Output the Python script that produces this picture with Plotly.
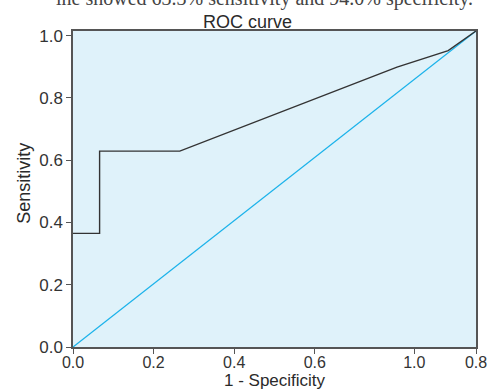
import plotly.graph_objects as go

# ROC curve points (1 - specificity, sensitivity)
roc_x = [0.0, 0.066, 0.066, 0.265, 0.804, 0.931, 1.0]
roc_y = [0.365, 0.365, 0.629, 0.629, 0.899, 0.952, 1.015]
# Reference diagonal
diag_x = [0.0, 1.0]
diag_y = [0.0, 1.015]

x_tickvals = [0.0, 0.2, 0.4, 0.6, 0.847, 1.0]
x_ticktext = ["0.0", "0.2", "0.4", "0.6", "1.0", "0.8"]
y_tickvals = [0.0, 0.2, 0.4, 0.6, 0.8, 1.0]
y_ticktext = ["0.0", "0.2", "0.4", "0.6", "0.8", "1.0"]

title_text = "ROC curve"
x_title = "1 - Specificity"
y_title = "Sensitivity"
caption_text = "ine showed 63.3% sensitivity and 94.0% specificity."

fig = go.Figure()
fig.add_trace(go.Scatter(x=diag_x, y=diag_y, mode="lines",
                         line=dict(color="#1ab2ea", width=1.3), hoverinfo="skip"))
fig.add_trace(go.Scatter(x=roc_x, y=roc_y, mode="lines",
                         line=dict(color="#333333", width=1.4), hoverinfo="skip"))

fam = "Liberation Sans, Arial, sans-serif"
tickfont = dict(family=fam, size=17, color="#333333")
xtickfont = dict(family=fam, size=16, color="#333333")
labfont = dict(family=fam, size=18, color="#2a2a2a")
xlabfont = dict(family=fam, size=17, color="#2a2a2a")

fig.update_layout(
    width=499, height=390,
    margin=dict(l=73, r=13, t=31, b=43),
    paper_bgcolor="white",
    plot_bgcolor="#dff2fa",
    showlegend=False,
    font=tickfont,
    xaxis=dict(range=[0, 1], tickvals=x_tickvals, ticktext=x_ticktext,
               showgrid=False, zeroline=False, showline=True, mirror=True,
               linecolor="#555555", linewidth=1.5, ticks="outside", ticklen=5,
               tickcolor="#555555", tickfont=xtickfont, ticklabelstandoff=-5),
    yaxis=dict(range=[0, 1.015], tickvals=y_tickvals, ticktext=y_ticktext,
               showgrid=False, zeroline=False, showline=True, mirror=True,
               linecolor="#555555", linewidth=1.5, ticks="outside", ticklen=5,
               tickcolor="#555555", tickfont=tickfont),
    annotations=[
        dict(text=title_text, x=(252 - 73) / 413, xref="paper", y=1.030, yref="paper",
             xanchor="center", yanchor="middle", showarrow=False, font=labfont),
        dict(text=x_title, x=0.5, xref="paper", y=-0.107, yref="paper",
             xanchor="center", yanchor="middle", showarrow=False, font=xlabfont),
        dict(text=y_title, x=-0.122, xref="paper", y=0.519, yref="paper",
             xanchor="center", yanchor="middle", textangle=-90, showarrow=False,
             font=labfont),
        dict(text=caption_text,
             x=(485 - 73) / 413, xref="paper", y=1.0 + 32 / 316, yref="paper",
             xanchor="right", yanchor="middle", showarrow=False,
             font=dict(family="Liberation Serif, serif", size=20, color="#444444")),
    ],
)

fig.write_html("out.html", config={"displayModeBar": False},
               post_script="document.body.style.margin='0';")
